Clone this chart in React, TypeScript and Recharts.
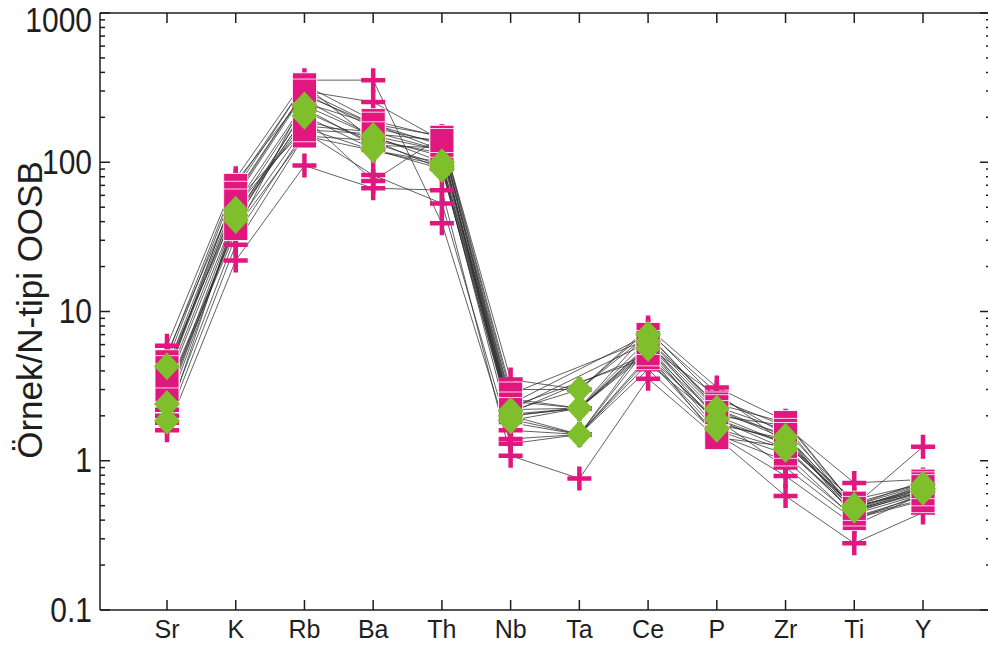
import React from 'react';
import { LineChart, Line, XAxis, YAxis } from 'recharts';

// element order of the spider diagram
const elements = ['Sr', 'K', 'Rb', 'Ba', 'Th', 'Nb', 'Ta', 'Ce', 'P', 'Zr', 'Ti', 'Y'];

// samples shown with magenta plus markers
const crossSamples: (number | null)[][] = [
  [5.9, 78, 355, 355, 39, 1.3, 1.5, 4.1, 1.5, 0.79, 0.37, 0.6],
  [1.6, 22, 95, 67, 65, 1.08, 0.76, 3.55, 1.43, 0.58, 0.28, 0.45],
  [5.2, 60, 300, 253, 140, 2.6, 2.25, 7.3, 2.86, 1.3, 0.55, 0.7],
  [2.0, 32, 160, 82, 53, 1.4, 1.5, 4.5, 1.9, 0.9, 0.4, 0.6],
  [3.2, 45, 200, 75, 150, 3.5, 3.0, 7.8, 3.1, 1.85, 0.5, 1.24],
  [2.6, 38, 170, 120, 100, 2.0, 2.25, 6.0, 2.0, 1.3, 0.5, 0.62],
  [4.0, 52, 250, 180, 120, 2.2, 2.25, 6.5, 2.2, 1.4, 0.48, 0.68],
  [3.6, 66, 330, 140, 90, 1.9, 1.5, 5.8, 2.73, 1.5, 0.42, 0.58],
  [5.0, 74, 280, 180, 150, 3.0, 3.0, 7.5, 2.6, 1.7, 0.71, 0.75],
  [1.8, 28, 150, 120, 95, 1.6, 1.5, 4.8, 1.5, 1.0, 0.42, 0.55],
  [3.9, 58, 290, 170, 135, 2.5, 2.25, 5.5, 2.0, 1.72, 0.46, 0.65],
  [2.6, 44, 190, 145, 110, 2.0, 2.25, 5.3, 1.8, 1.35, 0.47, 0.66],
  [2.2, 40, 230, 130, 125, 1.8, 1.5, 5.0, 1.9, 1.2, 0.45, 0.63],
  [2.9, 34, 260, 150, 120, 2.05, 2.25, 5.9, 1.75, 1.4, 0.46, 0.61],
];

// samples shown with magenta squares (no Ta value)
const squareSamples: (number | null)[][] = [
  [4.6, 70, 330, 190, 147, 2.8, null, 6.5, 2.4, 1.8, 0.5, 0.73],
  [3.4, 50, 175, 160, 120, 2.3, null, 4.9, 1.6, 1.11, 0.41, 0.54],
  [3.0, 36, 150, 140, 115, 2.1, null, 5.2, 1.43, 1.25, 0.44, 0.6],
  [4.2, 62, 300, 180, 130, 2.4, null, 7.0, 2.3, 1.6, 0.52, 0.7],
  [3.7, 55, 165, 155, 140, 2.2, null, 6.2, 2.1, 1.5, 0.48, 0.67],
];

// samples shown with green diamonds
const diamondSamples: (number | null)[][] = [
  [4.3, 48, 240, 150, 100, 2.16, 3.0, 7.0, 2.23, 1.45, 0.5, 0.69],
  [2.4, 41, 205, 122, 90, 1.86, 2.25, 5.7, 1.64, 1.2, 0.47, 0.62],
  [1.85, 44, 220, 135, 95, 2.0, 1.5, 6.3, 1.9, 1.3, 0.49, 0.65],
];

const decades = [0.1, 1, 10, 100, 1000];
const decadeLabels = ['0.1', '1', '10', '100', '1000'];
const yTicks: number[] = [];
decades.slice(0, 4).forEach((d) => {
  for (let k = 1; k < 10; k++) yTicks.push(Number((k * d).toPrecision(3)));
});
yTicks.push(1000);

const MAGENTA = '#E0177F';
const GREEN = '#7FBF2C';
const AXIS = '#1e1e1e';
const FONT = '"Liberation Sans", Arial, sans-serif';

const series = [
  ...crossSamples.map((v) => ({ v, shape: 'cross' })),
  ...squareSamples.map((v) => ({ v, shape: 'square' })),
  ...diamondSamples.map((v) => ({ v, shape: 'diamond' })),
];

const rows = elements.map((el, i) => {
  const row: any = { el };
  series.forEach((s, j) => {
    row[`s${j}`] = s.v[i];
  });
  return row;
});

const isDecade = (v: number) => decades.includes(v);

function renderDot(shape: string) {
  return (p: any) => {
    const { cx, cy, index, value } = p;
    if (cx == null || cy == null || value == null) return <g key={index} />;
    if (shape === 'cross') {
      return (
        <path
          key={index}
          d={`M${cx - 12},${cy}H${cx + 12}M${cx},${cy - 12}V${cy + 12}`}
          stroke={MAGENTA}
          strokeWidth={4.5}
          fill="none"
        />
      );
    }
    if (shape === 'square') {
      return (
        <rect key={index} x={cx - 12} y={cy - 12} width={24} height={24} fill={MAGENTA} stroke="#fff" strokeWidth={0.8} />
      );
    }
    return (
      <polygon
        key={index}
        points={`${cx},${cy - 14} ${cx + 13},${cy} ${cx},${cy + 14} ${cx - 13},${cy}`}
        fill={GREEN}
      />
    );
  };
}

const LeftTick = ({ x, y, payload }: any) => {
  const major = isDecade(payload.value);
  const ly = Math.max(y, 20);
  return (
    <g>
      <line x1={x} y1={y} x2={x + (major ? 10 : 5)} y2={y} stroke={AXIS} strokeWidth={1.5} />
      {major && (
        <text
          transform={`translate(${x - 8},${ly}) scale(1,1.15)`}
          textAnchor="end"
          dominantBaseline="central"
          fontSize={30}
          fontFamily={FONT}
          fill={AXIS}
        >
          {decadeLabels[decades.indexOf(payload.value)]}
        </text>
      )}
    </g>
  );
};

const RightTick = ({ x, y, payload }: any) => {
  const major = isDecade(payload.value);
  return <line x1={x} y1={y} x2={x - (major ? 10 : 4)} y2={y} stroke={AXIS} strokeWidth={1.5} />;
};

const BottomTick = ({ x, y, payload }: any) => (
  <g>
    <line x1={x} y1={y} x2={x} y2={y - 10} stroke={AXIS} strokeWidth={1.5} />
    <text x={x} y={y + 28} textAnchor="middle" fontSize={25} fontFamily={FONT} fill={AXIS}>
      {payload.value}
    </text>
  </g>
);

const TopTick = ({ x, y }: any) => <line x1={x} y1={y} x2={x} y2={y + 10} stroke={AXIS} strokeWidth={1.5} />;

export default function App() {
  return (
    <div style={{ position: 'absolute', left: 0, top: 0, width: 988, height: 646, overflow: 'hidden', background: '#fff' }}>
      <LineChart width={992} height={646} data={rows} margin={{ top: 0, right: 0, bottom: 0, left: 0 }}>
        <XAxis
          xAxisId="top"
          orientation="top"
          dataKey="el"
          height={13}
          padding={{ left: 67, right: 67 }}
          axisLine={{ stroke: AXIS, strokeWidth: 1.5 }}
          tickLine={false}
          tickSize={0}
          tickMargin={0}
          interval={0}
          tick={<TopTick />}
        />
        <XAxis
          dataKey="el"
          height={36}
          padding={{ left: 67, right: 67 }}
          axisLine={{ stroke: AXIS, strokeWidth: 1.5 }}
          tickLine={false}
          tickSize={0}
          tickMargin={0}
          interval={0}
          tick={<BottomTick />}
        />
        <YAxis
          yAxisId="left"
          scale="log"
          domain={[0.1, 1000]}
          allowDataOverflow
          ticks={yTicks}
          interval={0}
          width={100}
          axisLine={{ stroke: AXIS, strokeWidth: 1.5 }}
          tickLine={false}
          tickSize={0}
          tickMargin={0}
          tick={<LeftTick />}
          label={{
            content: () => (
              <text
                transform="translate(42,310) rotate(-90)"
                textAnchor="middle"
                fontSize={35}
                fontFamily={FONT}
                fill={AXIS}
              >
                Örnek/N-tipi OOSB
              </text>
            ),
          }}
        />
        <YAxis
          yAxisId="right"
          orientation="right"
          scale="log"
          domain={[0.1, 1000]}
          allowDataOverflow
          ticks={yTicks}
          interval={0}
          width={2}
          axisLine={{ stroke: AXIS, strokeWidth: 1.5 }}
          tickLine={false}
          tickSize={0}
          tickMargin={0}
          tick={<RightTick />}
        />
        {series.map((s, j) => (
          <Line
            key={`s${j}`}
            yAxisId="left"
            dataKey={`s${j}`}
            type="linear"
            connectNulls
            stroke="#2e2e2e"
            strokeWidth={0.75}
            dot={renderDot(s.shape)}
            activeDot={false}
            isAnimationActive={false}
          />
        ))}
      </LineChart>
    </div>
  );
}
